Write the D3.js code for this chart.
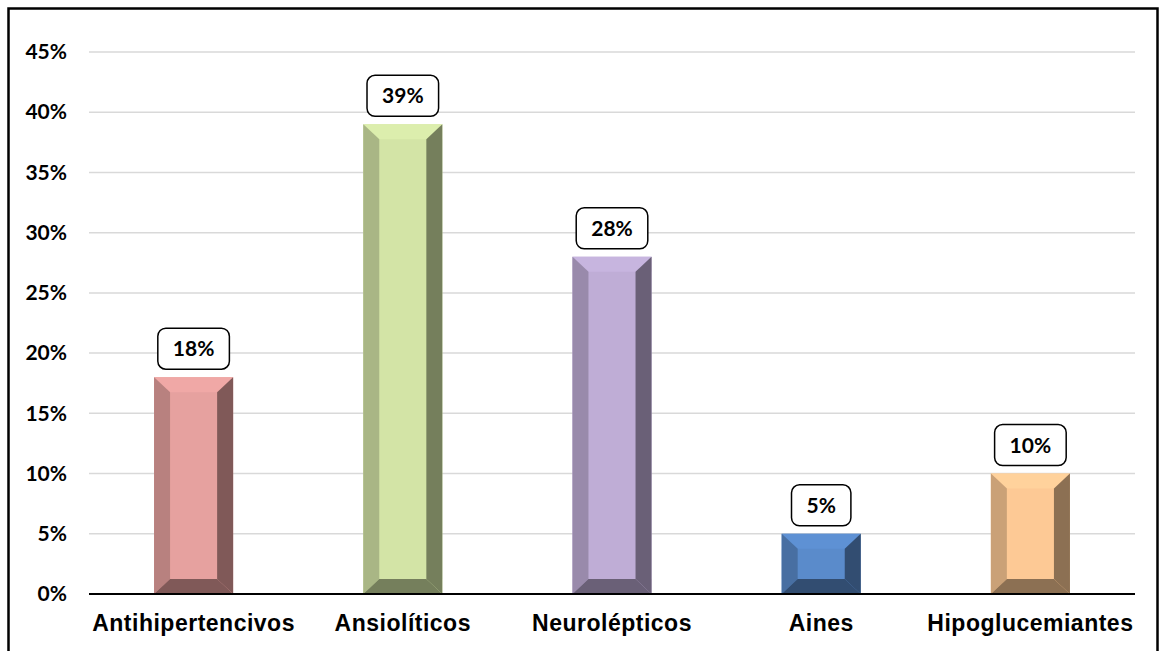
<!DOCTYPE html>
<html>
<head>
<meta charset="utf-8">
<script src="https://cdn.jsdelivr.net/npm/d3@7"></script>
<style>
	body { margin: 0; background: #fff; }
	svg { display: block; }
</style>
</head>
<body>
<script>
// Chart data
const categories = ['Antihipertencivos', 'Ansiolíticos', 'Neurolépticos', 'Aines', 'Hipoglucemiantes'];
const values = [0.18, 0.39, 0.28, 0.05, 0.10];
const barColours = ['#E6A19F', '#D3E4A6', '#BFADD6', '#5A8BCB', '#FDC995'];
const yTicks = [0, 0.05, 0.10, 0.15, 0.20, 0.25, 0.30, 0.35, 0.40, 0.45];

const width = 1165;
const height = 651;
const margin = {left: 89, right: 30, top: 52, bottom: 57};

const svg = d3.select('body').append('svg').attr('width', width).attr('height', height);

// Outer frame (bottom edge runs off the picture)
svg.append('rect')
	.attr('x', 8.5)
	.attr('y', 8.5)
	.attr('width', 1149)
	.attr('height', 660)
	.attr('fill', 'none')
	.attr('stroke', '#000')
	.attr('stroke-width', 2.5);

const x = d3
	.scaleBand()
	.domain(categories)
	.range([margin.left, width - margin.right])
	.paddingInner(0.622)
	.paddingOuter(0.311);

const y = d3
	.scaleLinear()
	.domain([0, 0.45])
	.range([height - margin.bottom, margin.top]);

// Gridlines
svg.append('g')
	.selectAll('line')
	.data(yTicks.slice(1))
	.enter()
	.append('line')
	.attr('x1', margin.left)
	.attr('x2', width - margin.right)
	.attr('y1', (d) => y(d))
	.attr('y2', (d) => y(d))
	.attr('stroke', '#D9D9D9')
	.attr('stroke-width', 1.5);

// Y axis labels
const yAxis = svg.append('g')
	.attr('transform', `translate(${margin.left - 22},0)`)
	.call(d3.axisLeft(y).tickValues(yTicks).tickFormat(d3.format('.0%')).tickSize(0).tickPadding(0));
yAxis.select('.domain').remove();
yAxis.selectAll('text')
	.attr('font-family', 'Lato, "Open Sans", sans-serif')
	.attr('font-weight', 'bold')
	.attr('font-size', 21)
	.attr('fill', '#000');

// Bevelled bars
const bevelX = 16;
const bevelY = 15;
const bars = svg.selectAll('.bar')
	.data(values)
	.enter()
	.append('g')
	.attr('class', 'bar');

bars.each(function (v, i) {
	const g = d3.select(this);
	const x0 = x(categories[i]);
	const x1 = x0 + x.bandwidth();
	const y0 = y(v);
	const y1 = y(0);
	const base = d3.color(barColours[i]);
	const pts = (arr) => arr.map((p) => p.join(',')).join(' ');

	g.append('rect')
		.attr('x', x0)
		.attr('y', y0)
		.attr('width', x1 - x0)
		.attr('height', y1 - y0)
		.attr('fill', base.formatHex());
	// top
	g.append('polygon')
		.attr('points', pts([[x0, y0], [x1, y0], [x1 - bevelX, y0 + bevelY], [x0 + bevelX, y0 + bevelY]]))
		.attr('fill', base.brighter(0.12).formatHex());
	// left
	g.append('polygon')
		.attr('points', pts([[x0, y0], [x0 + bevelX, y0 + bevelY], [x0 + bevelX, y1 - bevelY], [x0, y1]]))
		.attr('fill', base.darker(0.63).formatHex());
	// right
	g.append('polygon')
		.attr('points', pts([[x1, y0], [x1, y1], [x1 - bevelX, y1 - bevelY], [x1 - bevelX, y0 + bevelY]]))
		.attr('fill', base.darker(1.65).formatHex());
	// bottom
	g.append('polygon')
		.attr('points', pts([[x0, y1], [x0 + bevelX, y1 - bevelY], [x1 - bevelX, y1 - bevelY], [x1, y1]]))
		.attr('fill', base.darker(1.65).formatHex());
});

// Baseline
svg.append('line')
	.attr('x1', margin.left)
	.attr('x2', width - margin.right)
	.attr('y1', y(0))
	.attr('y2', y(0))
	.attr('stroke', '#000')
	.attr('stroke-width', 2);

// X labels
svg.selectAll('.xlabel')
	.data(categories)
	.enter()
	.append('text')
	.attr('class', 'xlabel')
	.attr('x', (d) => x(d) + x.bandwidth() / 2)
	.attr('y', 631)
	.attr('text-anchor', 'middle')
	.attr('font-family', '"Liberation Sans", Arial, sans-serif')
	.attr('font-weight', 'bold')
	.attr('font-size', 23)
	.attr('letter-spacing', 0.5)
	.text((d) => d);

// Data labels in rounded boxes
const labels = svg.selectAll('.dlabel')
	.data(values)
	.enter()
	.append('g')
	.attr('class', 'dlabel')
	.attr('transform', (d, i) => `translate(${x(categories[i]) + x.bandwidth() / 2},${y(d) - 8})`);

labels.append('text')
	.attr('y', -13)
	.attr('text-anchor', 'middle')
	.attr('font-family', 'Lato, "Open Sans", sans-serif')
	.attr('font-weight', 'bold')
	.attr('font-size', 21)
	.text((d) => d3.format('.0%')(d));

labels.each(function () {
	const g = d3.select(this);
	const w = g.select('text').node().getComputedTextLength() + 30;
	g.insert('rect', 'text')
		.attr('x', -w / 2)
		.attr('y', -41)
		.attr('width', w)
		.attr('height', 41)
		.attr('rx', 8)
		.attr('fill', '#fff')
		.attr('stroke', '#000')
		.attr('stroke-width', 1.5);
});
</script>
</body>
</html>
